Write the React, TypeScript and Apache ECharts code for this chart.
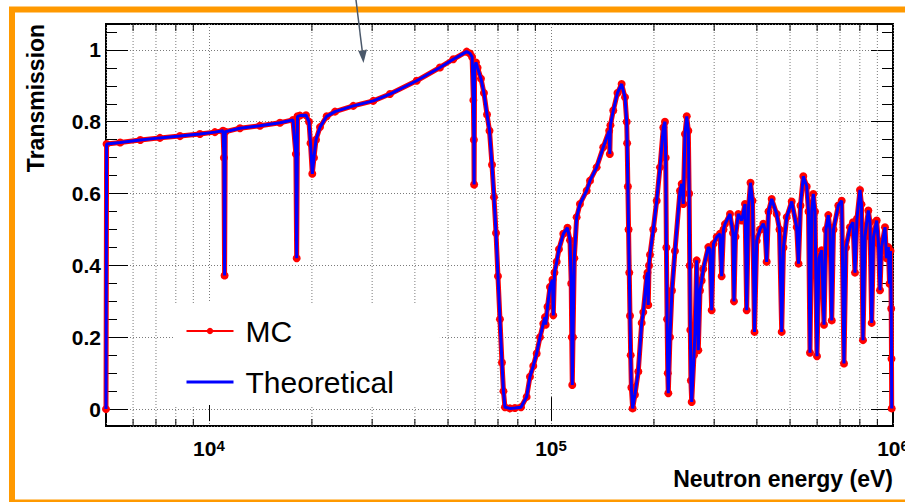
import React, { useEffect, useRef } from 'react';
import * as echarts from 'echarts';

// Neutron energy (eV) of each sampled point
const energies = [
  5000, 5020, 5500, 6300, 7190, 8230, 9410, 10410, 10990, 11060,
  11110, 11160, 12320, 14100, 16130, 17600, 17950, 18050, 18150, 18450,
  19220, 19610, 19810, 20050, 20280, 20560, 21120, 22090, 23360, 26420,
  30230, 33820, 40490, 47350, 51810, 56690, 57970, 58800, 59300, 59500,
  59600, 59800, 60360, 61010, 62420, 63680, 65010, 66110, 67230, 68140,
  69070, 69980, 70930, 71890, 72620, 73360, 75870, 78460, 81710, 84890,
  86810, 88760, 90820, 92870, 94950, 96050, 96500, 97680, 99330, 101000,
  101560, 102380, 103920, 105530, 108640, 111740, 113650, 114600, 115000, 115420,
  116000, 117000, 118870, 121550, 127150, 130020, 136000, 142180, 148000, 148600,
  149200, 152100, 156450, 160900, 164600, 166500, 167000, 167800, 168600, 169400,
  170200, 171000, 171800, 173300, 176000, 180000, 184160, 186160, 190450, 191500,
  192500, 193500, 194750, 199100, 203740, 208300, 213000, 215400, 216500, 217500,
  218500, 219500, 220300, 222800, 225800, 230400, 238400, 241100, 243700, 246500,
  249400, 252100, 253500, 254500, 255500, 256500, 257900, 261900, 263700, 266700,
  269600, 272700, 275800, 278800, 288400, 291700, 295000, 298600, 305100, 312000,
  315500, 319400, 322600, 333700, 340500, 342800, 346300, 352900, 361100, 369200,
  373400, 378000, 383100, 388300, 393600, 399500, 408400, 417600, 422400, 427200,
  432500, 441900, 457000, 465700, 472700, 478400, 488900, 505600, 522900, 529300,
  536400, 546700, 559400, 566200, 571900, 578600, 584800, 591500, 599500, 607600,
  618700, 628400, 637000, 646900, 654400, 662000, 669900, 692000, 707900, 718900,
  728700, 748600, 763800, 774200, 784600, 800700, 808800, 817100, 828100, 846800,
  856400, 866400, 877000, 896000, 907000, 916200, 925600, 947600, 957200, 969000,
  976800, 983400, 988000, 990000, 991300,
];

// Transmission read at each energy (MC and theoretical coincide at this scale)
const transmission = [
  0.0, 0.738, 0.742, 0.749, 0.755, 0.76, 0.766, 0.771, 0.775, 0.7,
  0.372, 0.772, 0.782, 0.789, 0.797, 0.805, 0.71, 0.42, 0.815, 0.817,
  0.818, 0.8, 0.74, 0.655, 0.7, 0.75, 0.785, 0.815, 0.828, 0.844,
  0.858, 0.877, 0.914, 0.951, 0.974, 0.995, 0.99, 0.98, 0.86, 0.75,
  0.625, 0.95, 0.965, 0.95, 0.92, 0.88, 0.82, 0.775, 0.68, 0.59,
  0.49, 0.37, 0.25, 0.13, 0.05, 0.005, 0.002, 0.003, 0.005, 0.034,
  0.09, 0.12, 0.155, 0.2, 0.238, 0.256, 0.235, 0.285, 0.34, 0.36,
  0.261, 0.38, 0.41, 0.445, 0.488, 0.505, 0.47, 0.35, 0.2, 0.067,
  0.2, 0.42, 0.534, 0.571, 0.608, 0.636, 0.673, 0.729, 0.775, 0.71,
  0.79, 0.831, 0.88, 0.905, 0.868, 0.8, 0.74, 0.62, 0.5, 0.38,
  0.26, 0.15, 0.06, 0.002, 0.04, 0.105, 0.24, 0.27, 0.368, 0.38,
  0.29, 0.4, 0.43, 0.5, 0.58, 0.673, 0.784, 0.8, 0.7, 0.45,
  0.25, 0.1, 0.044, 0.2, 0.33, 0.44, 0.608, 0.627, 0.571, 0.766,
  0.815, 0.775, 0.6, 0.4, 0.22, 0.08, 0.02, 0.15, 0.21, 0.414,
  0.164, 0.33, 0.358, 0.39, 0.451, 0.445, 0.275, 0.46, 0.479, 0.488,
  0.37, 0.5, 0.515, 0.543, 0.49, 0.3, 0.48, 0.543, 0.525, 0.571,
  0.275, 0.56, 0.63, 0.58, 0.215, 0.469, 0.5, 0.516, 0.5, 0.41,
  0.55, 0.585, 0.543, 0.5, 0.215, 0.45, 0.534, 0.578, 0.506, 0.405,
  0.567, 0.648, 0.62, 0.55, 0.157, 0.55, 0.599, 0.55, 0.147, 0.42,
  0.442, 0.235, 0.5, 0.54, 0.5, 0.247, 0.5, 0.567, 0.58, 0.127,
  0.45, 0.506, 0.52, 0.38, 0.53, 0.61, 0.57, 0.192, 0.48, 0.553,
  0.52, 0.24, 0.48, 0.525, 0.46, 0.331, 0.45, 0.506, 0.42, 0.451,
  0.349, 0.44, 0.28, 0.14, 0.002,
];

// Minor (linear) subdivisions of each decade on the log axis
const minorTickEnergies = [
  6000, 7000, 8000, 9000,
  20000, 30000, 40000, 50000, 60000, 70000, 80000, 90000,
  200000, 300000, 400000, 500000, 600000, 700000, 800000, 900000,
];

const seriesNames = ['MC', 'Theoretical'];
const yTitle = 'Transmission';
const xTitle = 'Neutron energy (eV)';

const X_MIN = 5000;
const X_MAX = 1000000;
const Y_MIN = -0.047;
const Y_MAX = 1.072;
const FONT = '"Liberation Sans", Arial, Helvetica, sans-serif';

export default function App() {
  const ref = useRef<HTMLDivElement>(null);

  useEffect(() => {
    if (!ref.current) return;
    const chart = echarts.init(ref.current, null, { renderer: 'svg' });
    const points = energies.map((e, i) => [e, transmission[i]]);
    const gridLine = { color: '#7a7a7a', width: 1, type: [1, 2] as any };

    const option: any = {
      animation: false,
      textStyle: { fontFamily: FONT },
      grid: {
        left: 106,
        top: 24,
        right: 12,
        bottom: 76,
        show: true,
        borderColor: '#000',
        borderWidth: 2,
        backgroundColor: 'rgba(0,0,0,0)',
        containLabel: false,
        outerBoundsMode: 'none',
      },
      xAxis: [
        {
          type: 'log',
          logBase: 10,
          min: X_MIN,
          max: X_MAX,
          position: 'bottom',
          axisLine: { show: false },
          axisTick: { show: true, inside: true, length: 12, lineStyle: { color: '#000', width: 1 } },
          splitLine: { show: true, lineStyle: gridLine },
          axisLabel: {
            show: true,
            showMinLabel: false,
            hideOverlap: false,
            margin: 12,
            fontSize: 21,
            fontWeight: 'bold',
            color: '#000',
            formatter: (v: number) => `{b|10}{s|${Math.round(Math.log10(v))}}`,
            rich: {
              b: { fontSize: 21, fontWeight: 'bold', color: '#000', lineHeight: 21, fontFamily: FONT, verticalAlign: 'bottom' },
              s: { fontSize: 15, fontWeight: 'bold', color: '#000', lineHeight: 10, fontFamily: FONT, verticalAlign: 'top' },
            },
          },
        },
        {
          type: 'log',
          logBase: 10,
          min: X_MIN,
          max: X_MAX,
          position: 'top',
          axisLine: { show: false },
          axisTick: { show: true, inside: true, length: 12, lineStyle: { color: '#000', width: 1 } },
          splitLine: { show: false },
          axisLabel: { show: false },
        },
      ],
      yAxis: [
        {
          type: 'value',
          min: Y_MIN,
          max: Y_MAX,
          position: 'left',
          axisLine: { show: false },
          axisTick: { show: true, inside: true, length: 22, lineStyle: { color: '#000', width: 1 } },
          minorTick: { show: true, splitNumber: 4, length: 11, lineStyle: { color: '#000', width: 1 } },
          splitLine: { show: true, lineStyle: gridLine },
          axisLabel: {
            show: true,
            showMinLabel: false,
            showMaxLabel: false,
            margin: 5,
            fontSize: 21,
            fontWeight: 'bold',
            color: '#000',
            fontFamily: FONT,
          },
        },
        {
          type: 'value',
          min: Y_MIN,
          max: Y_MAX,
          position: 'right',
          axisLine: { show: false },
          axisTick: { show: true, inside: true, length: 22, lineStyle: { color: '#000', width: 1 } },
          minorTick: { show: true, splitNumber: 4, length: 11, lineStyle: { color: '#000', width: 1 } },
          splitLine: { show: false },
          axisLabel: { show: false },
        },
      ],
      legend: {
        orient: 'vertical',
        left: 173,
        top: 303,
        backgroundColor: '#fff',
        padding: [13, 46, 8, 12],
        itemWidth: 47,
        itemHeight: 8,
        itemGap: 21,
        selectedMode: false,
        textStyle: { fontSize: 30, lineHeight: 30, color: '#000', fontFamily: FONT, padding: [0, 0, 0, 7] },
        data: [
          { name: seriesNames[0], lineStyle: { color: '#ff0000', width: 2 }, itemStyle: { color: '#ff0000' } },
          { name: seriesNames[1], lineStyle: { color: '#0000ff', width: 3 }, itemStyle: { color: 'rgba(0,0,0,0)', opacity: 0 } },
        ],
      },
      series: [
        {
          type: 'custom',
          name: 'minor',
          silent: true,
          z: 1,
          clip: false,
          xAxisIndex: 0,
          yAxisIndex: 0,
          data: minorTickEnergies.map((e) => [e, 0]),
          renderItem: (_params: any, api: any) => {
            const e = api.value(0);
            const b = api.coord([e, Y_MIN]);
            const t = api.coord([e, Y_MAX]);
            return {
              type: 'group',
              children: [
                { type: 'line', shape: { x1: b[0], y1: b[1], x2: t[0], y2: t[1] }, style: { stroke: '#7a7a7a', lineWidth: 1, lineDash: [1, 2] } },
                { type: 'line', shape: { x1: b[0], y1: b[1], x2: b[0], y2: b[1] - 7 }, style: { stroke: '#000', lineWidth: 1 } },
                { type: 'line', shape: { x1: t[0], y1: t[1], x2: t[0], y2: t[1] + 7 }, style: { stroke: '#000', lineWidth: 1 } },
              ],
            };
          },
        },
        {
          type: 'line',
          name: seriesNames[0],
          data: points,
          z: 2,
          silent: true,
          symbol: 'circle',
          symbolSize: 8,
          showSymbol: true,
          lineStyle: { color: '#ff0000', width: 5 },
          itemStyle: { color: '#ff0000' },
        },
        {
          type: 'line',
          name: seriesNames[1],
          data: points,
          z: 3,
          silent: true,
          symbol: 'none',
          showSymbol: false,
          lineStyle: { color: '#0000ff', width: 3 },
          itemStyle: { color: '#0000ff' },
        },
      ],
      graphic: [
        {
          type: 'rect',
          silent: true,
          shape: { x: 12, y: 9.5, width: 920, height: 493 },
          style: { fill: 'none', stroke: '#ff9900', lineWidth: 6 },
        },
        {
          type: 'text',
          silent: true,
          x: 36,
          y: 98,
          rotation: Math.PI / 2,
          style: {
            text: yTitle,
            font: `bold 23px ${FONT}`,
            fill: '#000',
            align: 'center',
            verticalAlign: 'middle',
            textAlign: 'center',
            textVerticalAlign: 'middle',
          },
        },
        {
          type: 'text',
          silent: true,
          x: 893,
          y: 479,
          style: {
            text: xTitle,
            font: `bold 23px ${FONT}`,
            fill: '#000',
            align: 'right',
            verticalAlign: 'middle',
            textAlign: 'right',
            textVerticalAlign: 'middle',
          },
        },
        {
          type: 'polyline',
          silent: true,
          shape: { points: [[356, 0], [362.6, 54]] },
          style: { stroke: '#4a586a', lineWidth: 1.5, fill: 'none' },
        },
        {
          type: 'polygon',
          silent: true,
          shape: { points: [[358.3, 51], [367, 49.5], [363.5, 63]] },
          style: { fill: '#4a586a' },
        },
      ],
    };

    chart.setOption(option);
    return () => chart.dispose();
  }, []);

  return (
    <div
      ref={ref}
      style={{ position: 'absolute', left: 0, top: 0, width: 905, height: 502 }}
    />
  );
}
